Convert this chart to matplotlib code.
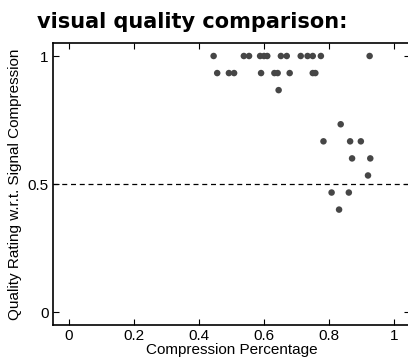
import matplotlib
matplotlib.use("Agg")
import matplotlib.pyplot as plt

# Data (compression percentage, quality rating)
compression = [0.445, 0.538, 0.554, 0.588, 0.600, 0.610, 0.652, 0.670, 0.713, 0.734, 0.750, 0.775, 0.925,
               0.456, 0.492, 0.508, 0.591, 0.632, 0.642, 0.679, 0.750, 0.758,
               0.645,
               0.836,
               0.783, 0.865, 0.898,
               0.871, 0.927,
               0.920,
               0.808, 0.861,
               0.831]
rating = [1.0] * 13 + [14/15] * 9 + [13/15] + [11/15] + [10/15] * 3 + [9/15] * 2 + [8/15] + [7/15] * 2 + [6/15]

xticks = [0, 0.2, 0.4, 0.6, 0.8, 1]
xticklabels = ["0", "0.2", "0.4", "0.6", "0.8", "1"]
yticks = [0, 0.5, 1]
yticklabels = ["0", "0.5", "1"]
threshold = 0.5

plt.rcParams['font.family'] = ['Liberation Sans', 'DejaVu Sans']

W, H = 408, 358
fig = plt.figure(figsize=(W / 100, H / 100), dpi=100)
left = 52.75 / W
right = 410.25 / W
bottom = (H - 324.8) / H
top = (H - 43.2) / H
ax = fig.add_axes([left, bottom, right - left, top - bottom])

ax.scatter(compression, rating, s=22, color='#464646', edgecolors='none', zorder=3)
ax.axhline(threshold, color='black', linestyle=(0, (4, 3)), linewidth=0.9, zorder=2)

ax.set_xlim(-0.05, 1.05)
ax.set_ylim(-0.05, 1.05)
ax.set_xticks(xticks)
ax.set_xticklabels(xticklabels)
ax.set_yticks(yticks)
ax.set_yticklabels(yticklabels)
ax.tick_params(direction='in', length=4, width=0.8, top=True, right=True,
               labelsize=11, pad=3, colors='black')
for sp in ax.spines.values():
    sp.set_linewidth(1.2)

ax.set_xlabel("Compression Percentage", fontsize=11, labelpad=0)
ax.set_ylabel("Quality Rating w.r.t. Signal Compression", fontsize=11, labelpad=4)

fig.text(192.5 / W, (H - 28.5) / H, "visual quality comparison:", ha='center', va='baseline',
         fontsize=15, fontweight='bold', family=['DejaVu Sans'])

fig.savefig("out.png", dpi=100)
